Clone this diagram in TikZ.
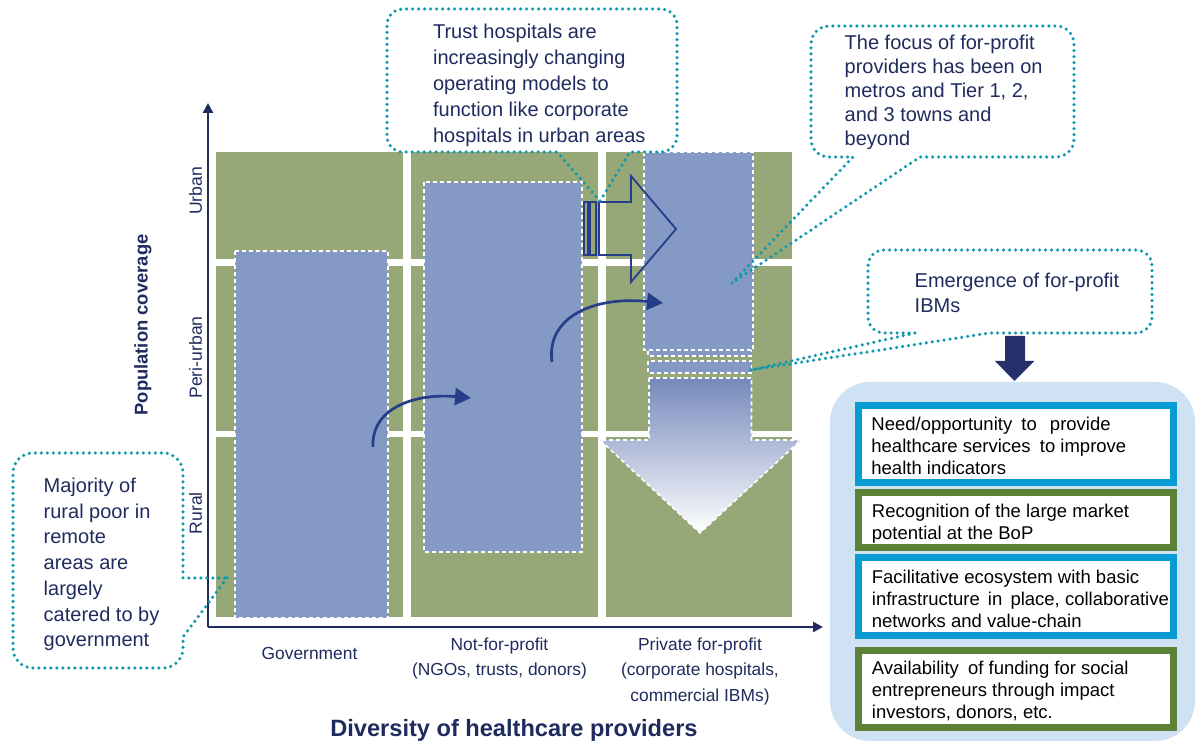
\documentclass[tikz,border=0pt]{standalone}
\usepackage{fontspec}
\setmainfont{Liberation Sans}
\usetikzlibrary{arrows.meta}
\definecolor{grn}{HTML}{97A878}
\definecolor{bbox}{HTML}{8499C3}
\definecolor{stripc}{HTML}{7589BB}
\definecolor{callc}{HTML}{0E98AD}
\definecolor{txtc}{HTML}{1F2B5E}
\definecolor{arrc}{HTML}{263D8A}
\definecolor{darr}{HTML}{26306B}
\definecolor{panelc}{HTML}{CFE2F3}
\definecolor{bdrb}{HTML}{0A9AD4}
\definecolor{bdrg}{HTML}{5B8236}
\tikzset{
 bluebx/.style={fill=bbox, draw=white, line width=0.8pt, dash pattern=on 2pt off 1.5pt},
 openarr/.style={draw=arrc, line width=0.9pt, line join=miter},
 curvarr/.style={draw=arrc, line width=1.35pt, -{Triangle[length=8pt,width=8.5pt]}},
 axisln/.style={draw=txtc, line width=1.4pt, -{Triangle[length=5pt,width=5pt]}},
 callout/.style={draw=callc, line width=1.75pt, dash pattern=on 0pt off 3pt, line cap=round},
 ctext/.style={text=txtc, align=left, inner sep=0pt, anchor=north west},
 ptext/.style={text=black, align=left, inner sep=0pt, anchor=north west, font=\fontsize{9.25}{11}\selectfont},
 bdrbox/.style={line width=3.5pt, fill=white},
 axlab/.style={text=txtc, inner sep=0pt, font=\fontsize{8.8}{10}\selectfont},
}
\begin{document}
\begin{tikzpicture}[x=0.5pt,y=-0.5pt]
\useasboundingbox (0,0) rectangle (1196,742);
% green grid
\foreach \xa/\xb in {216/403, 411/598, 606/792}
  \foreach \ya/\yb in {152/259, 266/431, 437/617}
    \fill[grn] (\xa,\ya) rectangle (\xb,\yb);
% blue boxes
\draw[bluebx] (235,251) rectangle (388,618);
\draw[bluebx] (424,182) rectangle (582,552);
\draw[bluebx] (648,344) rectangle (751.5,356);
\draw[bluebx] (648,361) rectangle (751.5,373);
\draw[bluebx] (644,152) rectangle (753,350);
% down gradient arrow
\path[top color=stripc, bottom color=white, draw=white, line width=0.8pt, dash pattern=on 2pt off 1.5pt]
  (649,378) -- (751.5,378) -- (751.5,440) -- (801,440) -- (700,533) -- (600,440) -- (649,440) -- cycle;
% open arrow
\draw[openarr] (599,202) -- (631,202) -- (631,176) -- (676,229) -- (631,282) -- (631,255) -- (599,255) -- cycle;
\draw[openarr] (584.3,202) rectangle (587.7,255);
\draw[openarr] (590.3,202) rectangle (596,255);
% curved arrows
\coordinate (c1s) at (373,447);
\coordinate (c1e) at (471,398);
\coordinate (c2s) at (552,362);
\coordinate (c2e) at (663,303);
\draw[curvarr] (c1s) .. controls (371,408) and (415,393) .. (c1e);
\draw[curvarr] (c2s) .. controls (546,318) and (592,296) .. (c2e);
% axes
\coordinate (org) at (208,627);
\coordinate (ytop) at (208,103);
\coordinate (xend) at (823,627);
\draw[axisln] (org) -- (ytop);
\draw[axisln] (org) -- (xend);
% axis labels
\node[axlab, rotate=90] (lu) at (195.5,190.8) {Urban};
\node[axlab, rotate=90] (lp) at (195.5,357.5) {Peri-urban};
\node[axlab, rotate=90] (lr) at (195.5,513.3) {Rural};
\node[text=txtc, inner sep=0pt, rotate=90, font=\fontsize{9.2}{11}\selectfont\bfseries] (ypc) at (143,325) {Population coverage};
\node[axlab, anchor=north, align=center, font=\fontsize{8.7}{12.7}\selectfont] (lg) at (309.5,646.7) {Government};
\node[axlab, anchor=north, align=center, font=\fontsize{8.7}{12.7}\selectfont] (ln) at (499.5,637.3) {Not-for-profit\\(NGOs, trusts, donors)};
\node[axlab, anchor=north, align=center, font=\fontsize{8.7}{12.7}\selectfont] (lpf) at (700,637.3) {Private for-profit\\(corporate hospitals,\\commercial IBMs)};
\node[text=txtc, inner sep=0pt, anchor=north, font=\fontsize{11.8}{14}\selectfont\bfseries] (xlab) at (514,719.3) {Diversity of healthcare providers};
% callouts
\coordinate (tcTip) at (600,201);
\draw[callout] (tcTip) -- (557,152) [rounded corners=8pt] -- (387,152) -- (387,9) -- (677,9) -- (677,152) [sharp corners] -- (630,152) -- cycle;
\node[ctext, font=\fontsize{10}{13}\selectfont] (tct) at (432.7,24) {Trust hospitals are\\increasingly changing\\operating models to\\function like corporate\\hospitals in urban areas};
\coordinate (fcTip) at (732,283);
\draw[callout] (fcTip) -- (853,157) [rounded corners=9pt] -- (811,157) -- (811,26) -- (1074,26) -- (1074,157) [sharp corners] -- (920,157) -- cycle;
\node[ctext, font=\fontsize{10}{11.9}\selectfont] (fct) at (844.3,35) {The focus of for-profit\\providers has been on\\metros and Tier 1, 2,\\and 3 towns and\\beyond};
\coordinate (ecTip) at (751,370);
\draw[callout] (ecTip) -- (915,333) [rounded corners=8pt] -- (868,333) -- (868,250) -- (1152,250) -- (1152,333) [sharp corners] -- (990,333) -- cycle;
\node[ctext, font=\fontsize{10}{12.5}\selectfont] (ect) at (914.3,272.7) {Emergence of for-profit\\IBMs};
\coordinate (lcTip) at (227,578);
\draw[callout] (lcTip) -- (183,637) [rounded corners=10pt] -- (183,668) -- (13,668) -- (13,453) -- (183,453) [sharp corners] -- (183,578) -- cycle;
\node[ctext, font=\fontsize{10}{12.85}\selectfont] (lct) at (43.3,477.7) {Majority of\\rural poor in\\remote\\areas are\\largely\\catered to by\\government};
% dark down arrow
\fill[darr] (1005,336) -- (1025,336) -- (1025,361) -- (1034.3,361) -- (1014.5,381) -- (995,361) -- (1005,361) -- cycle;
% panel
\fill[panelc, rounded corners=20pt] (830,382) rectangle (1195,741);
\draw[bdrbox, draw=bdrb] (858.5,405.2) rectangle (1173.8,482.2);
\draw[bdrbox, draw=bdrg] (858.5,492.5) rectangle (1173.8,547.2);
\draw[bdrbox, draw=bdrb] (858.5,557.8) rectangle (1173.8,635.2);
\draw[bdrbox, draw=bdrg] (858.5,650.2) rectangle (1173.8,727.2);
\node[ptext] (p1) at (871,416.7) {Need/opportunity\hspace{2pt} to\hspace{4pt} provide\\healthcare services\hspace{2pt} to improve\\health indicators};
\node[ptext] (p2) at (871.5,503.3) {Recognition of the large market\\potential at the BoP};
\node[ptext] (p3) at (871.5,569.3) {Facilitative ecosystem with basic\\infrastructure\hspace{1.5pt} in\hspace{1.5pt} place, collaborative\\networks and value-chain};
\node[ptext] (p4) at (871.5,660.7) {Availability\hspace{2pt} of funding for social\\entrepreneurs through impact\\investors, donors, etc.};
\end{tikzpicture}
\end{document}
